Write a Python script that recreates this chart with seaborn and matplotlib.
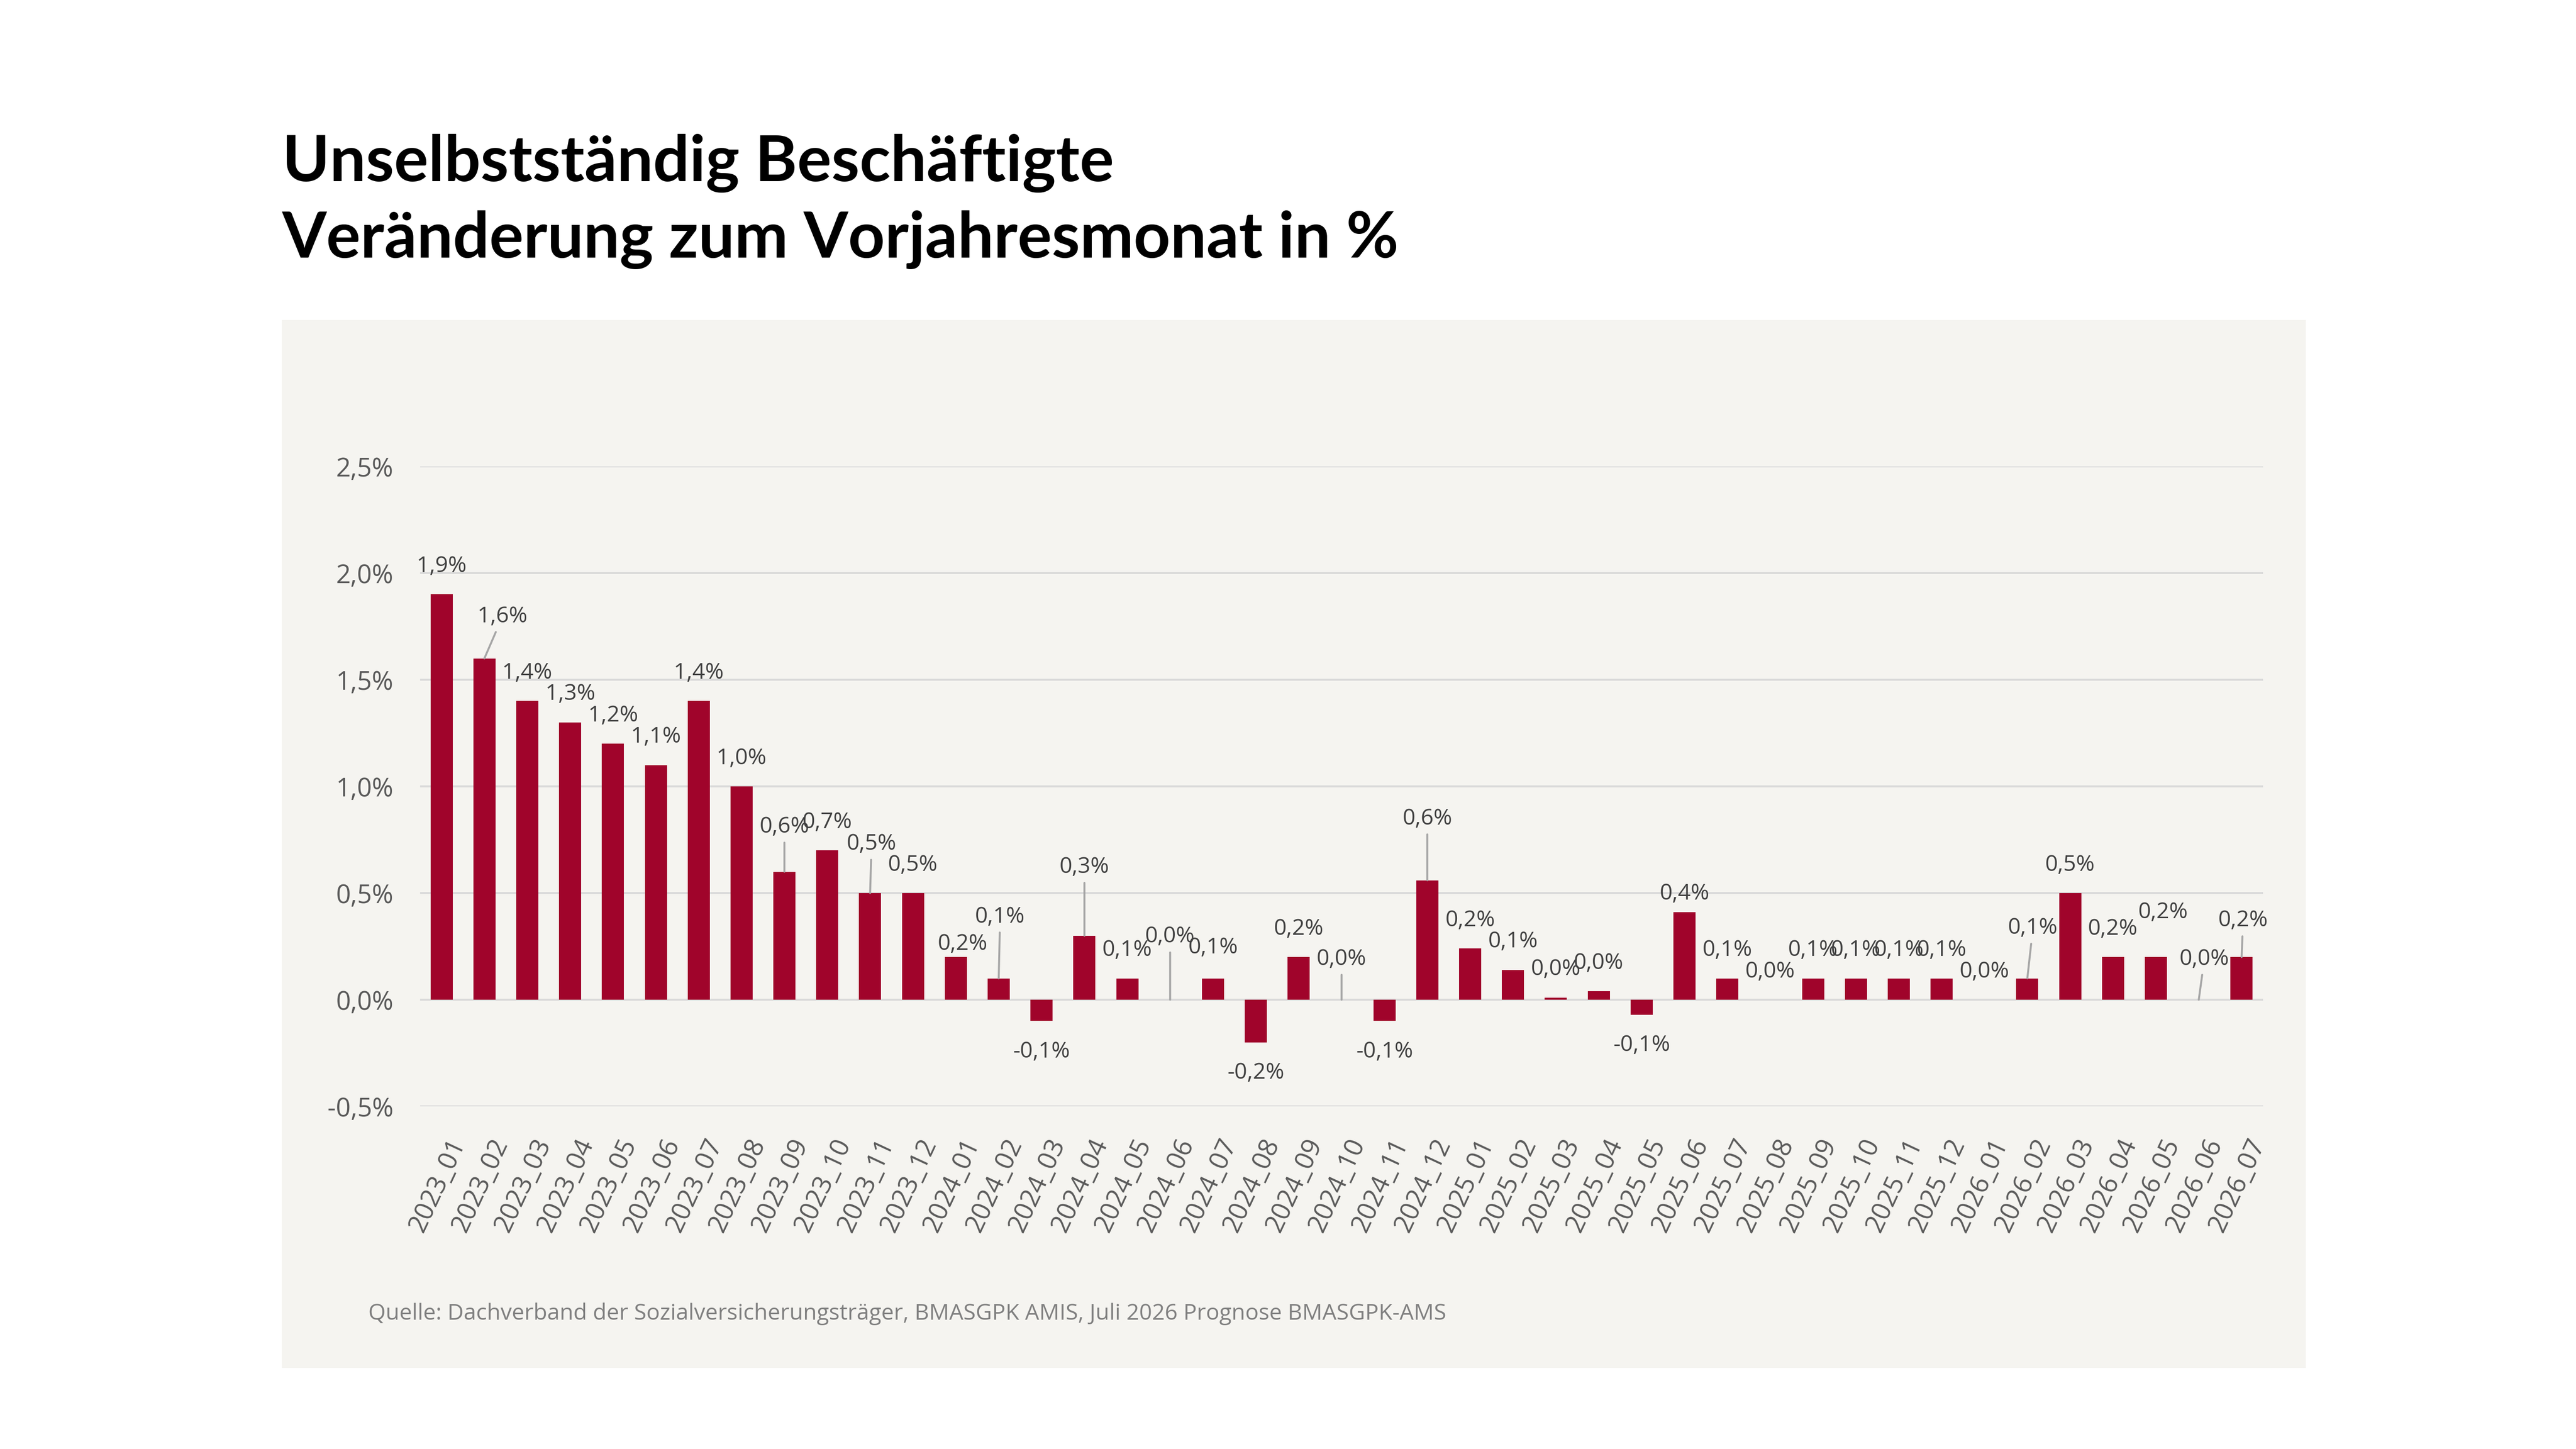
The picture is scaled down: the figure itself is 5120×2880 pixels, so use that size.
import matplotlib
matplotlib.use("Agg")
import matplotlib.pyplot as plt
import seaborn as sns
import pandas as pd
from matplotlib.patches import Rectangle
from matplotlib.transforms import ScaledTranslation
from matplotlib.ticker import FuncFormatter

# ---------------- data ----------------
months = [
    "2023_01", "2023_02", "2023_03", "2023_04", "2023_05", "2023_06", "2023_07", "2023_08",
    "2023_09", "2023_10", "2023_11", "2023_12",
    "2024_01", "2024_02", "2024_03", "2024_04", "2024_05", "2024_06", "2024_07", "2024_08",
    "2024_09", "2024_10", "2024_11", "2024_12",
    "2025_01", "2025_02", "2025_03", "2025_04", "2025_05", "2025_06", "2025_07", "2025_08",
    "2025_09", "2025_10", "2025_11", "2025_12",
    "2026_01", "2026_02", "2026_03", "2026_04", "2026_05", "2026_06", "2026_07",
]
values = [
    1.9, 1.6, 1.4, 1.3, 1.2, 1.1, 1.4, 1.0, 0.6, 0.7, 0.5, 0.5,
    0.2, 0.1, -0.1, 0.3, 0.1, 0.0, 0.1, -0.2, 0.2, 0.0, -0.1, 0.56,
    0.24, 0.14, 0.01, 0.04, -0.07, 0.41, 0.1, 0.0, 0.1, 0.1, 0.1, 0.1,
    0.0, 0.1, 0.5, 0.2, 0.2, 0.0, 0.2,
]
y_ticks = [-0.5, 0.0, 0.5, 1.0, 1.5, 2.0, 2.5]
title_lines = ["Unselbstständig Beschäftigte", "Veränderung zum Vorjahresmonat in %"]
source_text = ("Quelle: Dachverband der Sozialversicherungsträger, BMASGPK AMIS, "
               "Juli 2026 Prognose BMASGPK-AMS")

# labels that were moved by hand in the original (offset in points, leader line)
label_moves = {
    1: (13, 30, True), 8: (0, 32, True), 10: (1, 35, True), 12: (5, 9, False),
    13: (1, 44, True), 15: (0, 49, True), 17: (0, 45, True), 18: (0, 22, False),
    21: (0, 29, True), 23: (0, 44, True), 29: (0, 13, False), 37: (4, 36, True),
    40: (5, 32, False), 41: (4, 29, True), 42: (1, 26, True),
}

# ---------------- style ----------------
BAR = "#A0042B"
PANEL = "#F5F4F0"
GRID = "#D9D9D9"
TICK_C = "#595959"
LABEL_C = "#404040"
LEADER = "#A6A6A6"
SRC_C = "#7F7F7F"
FONT = ["Open Sans", "DejaVu Sans"]
TITLE_FONT = ["Lato", "DejaVu Sans"]

sns.set_style("white")
plt.rcParams["font.family"] = FONT

W, H = 5120, 2880
fig = plt.figure(figsize=(W / 200, H / 200), dpi=200, facecolor="white")

# beige panel
fig.patches.append(Rectangle((560 / W, 1 - 2719 / H), (4583 - 560) / W, (2719 - 636) / H,
                             transform=fig.transFigure, facecolor=PANEL, edgecolor="none",
                             zorder=-5))

ax = fig.add_axes([835 / W, 1 - 2199 / H, (4498 - 835) / W, (2199 - 927) / H])
ax.set_zorder(2)
ax.set_facecolor("none")
ax.patch.set_alpha(0)

df = pd.DataFrame({"Monat": months, "Wert": values})
sns.barplot(data=df, x="Monat", y="Wert", color=BAR, saturation=1, width=0.516,
            errorbar=None, linewidth=0, ax=ax, zorder=3)

ax.set_xlim(-0.5, len(months) - 0.5)
ax.set_ylim(min(y_ticks), max(y_ticks))
ax.set_yticks(y_ticks)
ax.yaxis.set_major_formatter(FuncFormatter(lambda v, p: f"{v:.1f}%".replace(".", ",")))
ax.yaxis.grid(True, color=GRID, lw=1.4, zorder=0)
ax.xaxis.grid(False)
ax.set_axisbelow(True)
for s in ax.spines.values():
    s.set_visible(False)
ax.set_xlabel("")
ax.set_ylabel("")
ax.tick_params(axis="y", length=0, pad=19, labelsize=18.5, labelcolor=TICK_C)
ax.tick_params(axis="x", length=0, pad=24, labelsize=18.5, labelcolor=TICK_C)
ax.set_xticks(range(len(months)))
ax.set_xticklabels(months, rotation=65, ha="right", va="center", rotation_mode="anchor")
off = ScaledTranslation(0.17, 0, fig.dpi_scale_trans)
for lab in ax.get_xticklabels():
    lab.set_transform(lab.get_transform() + off)

# data labels
for i, v in enumerate(values):
    txt = f"{v:.1f}%".replace(".", ",")
    if i in label_moves:
        dx, dy, leader = label_moves[i]
    else:
        dx, dy, leader = (0, 20, False) if v >= 0 else (0, -22, False)
    kw = {}
    if leader:
        kw["arrowprops"] = dict(arrowstyle="-", color=LEADER, lw=1.4, shrinkA=1, shrinkB=0)
    ax.annotate(txt, xy=(i, v), xytext=(dx, dy), textcoords="offset points",
                ha="center", va="center", fontsize=16, color=LABEL_C, zorder=5,
                annotation_clip=False, **kw)

# title
t1 = fig.text(561 / W, 1 - 360 / H, title_lines[0], fontsize=40, fontweight="bold",
              family=TITLE_FONT, color="black", va="baseline", ha="left")
t2 = fig.text(561 / W, 1 - 512 / H, title_lines[1], fontsize=40, fontweight="bold",
              family=TITLE_FONT, color="black", va="baseline", ha="left")
fig.canvas.draw()
w = t2.get_window_extent().width
fs = 40 * 2221 / w
t1.set_fontsize(fs)
t2.set_fontsize(fs)

# source
fig.text(732 / W, 1 - 2623 / H, source_text, fontsize=16.0, color=SRC_C,
         va="baseline", ha="left")

fig.savefig("out.png", dpi=200, facecolor="white")
